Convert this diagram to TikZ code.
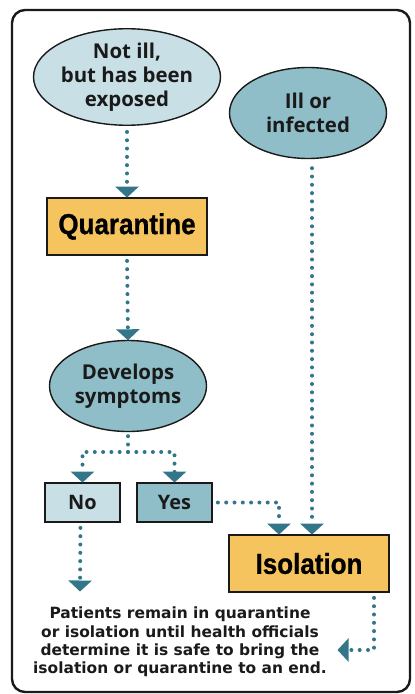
\documentclass[tikz,border=0pt]{standalone}
\usepackage{fontspec}
\setmainfont{Open Sans}
\newfontfamily\condfont[FakeStretch=0.9,FakeBold=0.8]{Liberation Sans}
\newfontfamily\notefont{DejaVu Sans}
\usetikzlibrary{shapes.geometric,arrows.meta}
\definecolor{lightblue}{HTML}{C8DFE6}
\definecolor{tealfill}{HTML}{8FBEC8}
\definecolor{orangefill}{HTML}{F6C45E}
\definecolor{dotcol}{HTML}{33768A}
\definecolor{ink}{HTML}{1A1A1A}
\tikzset{
  x=1bp,y=-1bp,
  oval/.style={ellipse,draw=ink,line width=1.4bp,minimum width=157bp,minimum height=91bp,inner sep=0pt,align=center,font=\fontsize{20.5}{24}\selectfont\bfseries,text=ink},
  bigbox/.style={draw=ink,line width=1.8bp,fill=orangefill,minimum width=160bp,minimum height=57bp,inner sep=0pt,font=\condfont\fontsize{29}{30}\selectfont\bfseries,text=black},
  smallbox/.style={draw=ink,line width=1.8bp,minimum width=75bp,minimum height=39bp,inner sep=0pt,font=\fontsize{20}{22}\selectfont\bfseries,text=ink},
  dotline/.style={draw=dotcol,line width=4bp,line cap=round,dash pattern=on 0bp off 8.3bp},
  dotarrow/.style={dotline,-{Triangle[width=23bp,length=11bp]},shorten >=-0.5bp},
}
\begin{document}
\begin{tikzpicture}
\useasboundingbox (0,0) rectangle (414,694);
\fill[white] (0,0) rectangle (414,694);
\draw[ink,line width=2.4bp,rounded corners=13bp] (12,10) rectangle (410,692);

\node[oval,fill=lightblue] (ne) at (127,77) {Not ill,\\but has been\\exposed};
\node[oval,fill=tealfill] (ill) at (308,113) {Ill or\\infected};
\node[bigbox] (q) at (127,226.5) {Quarantine};
\node[oval,fill=tealfill] (dev) at (128,386) {Develops\\symptoms};
\node[smallbox,fill=lightblue] (no) at (82.5,502.5) {No};
\node[smallbox,fill=tealfill] (yes) at (174.5,502.5) {Yes};
\node[bigbox] (iso) at (309,563.5) {Isolation};
\node[align=center,text=ink,font=\notefont\fontsize{15.5}{18.5}\selectfont\bfseries] (txt) at (180,642)
  {Patients remain in quarantine\\or isolation until health officials\\determine it is safe to bring the\\isolation or quarantine to an end.};

\coordinate (split) at (128,452);
\coordinate (noend) at (80,591);
\coordinate (isoend) at (338,650);

\draw[dotarrow,shorten <=6bp] (ne.south) -- (q.north);
\draw[dotarrow,shorten <=5bp] (q.south) -- (dev.north);
\draw[dotline,shorten <=4bp] (dev.south) -- (split);
\draw[dotarrow] (split) -| (no.north);
\draw[dotarrow] (split) -| (yes.north);
\draw[dotarrow] ([xshift=4bp]ill.south) ++(0,9) -- ([xshift=4bp]ill.south |- iso.north);
\draw[dotarrow,shorten <=5bp] (yes.east) -| ([xshift=-30bp]iso.north);
\draw[dotarrow,shorten <=5bp] ([xshift=-2bp]no.south) -- (noend);
\draw[dotarrow,shorten <=5bp] ([xshift=65bp]iso.south) |- (isoend);
\end{tikzpicture}
\end{document}
